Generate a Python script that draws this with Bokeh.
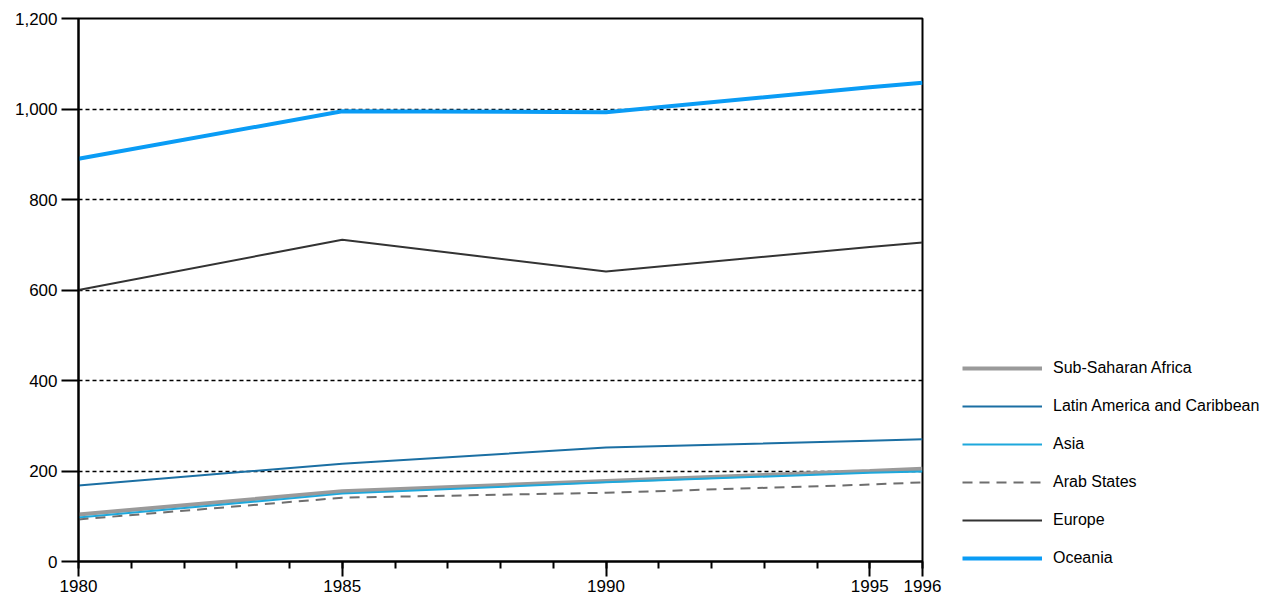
from bokeh.plotting import figure
from bokeh.models import FixedTicker, Legend, LegendItem, NumeralTickFormatter
from bokeh.embed import file_html
from bokeh.resources import INLINE

years = [1980, 1985, 1990, 1995, 1996]
sub_saharan = [104, 155, 178, 200, 205]
latin_america = [168, 216, 252, 267, 270]
asia = [97, 150, 175, 196, 199]
arab_states = [93, 141, 152, 170, 175]
europe = [600, 711, 641, 695, 705]
oceania = [890, 995, 993, 1048, 1058]

series = [
    ("Sub-Saharan Africa", sub_saharan, "#9a9a9a", 4, "solid"),
    ("Latin America and Caribbean", latin_america, "#1b6fa3", 2, "solid"),
    ("Asia", asia, "#1ea8dc", 2, "solid"),
    ("Arab States", arab_states, "#6e6e6e", 2, "10 7"),
    ("Europe", europe, "#333333", 2, "solid"),
    ("Oceania", oceania, "#0a9cf5", 4, "solid"),
]

x_labeled = [1980, 1985, 1990, 1995, 1996]
x_minor = list(range(1980, 1997))
y_ticks = [0, 200, 400, 600, 800, 1000, 1200]

FONT = "Liberation Sans"

p = figure(frame_width=844, frame_height=543, x_range=(1980, 1996), y_range=(0, 1200),
           output_backend="svg", toolbar_location=None,
           min_border_left=78, min_border_top=18, min_border_bottom=30, min_border_right=5)

items = []
for name, vals, color, w, dash in series:
    r = p.line(years, vals, line_color=color, line_width=w, line_dash=dash)
    items.append(LegendItem(label=name, renderers=[r]))

p.xaxis.ticker = FixedTicker(ticks=x_labeled, minor_ticks=x_minor)
p.xaxis.major_tick_out = 15
p.xaxis.major_tick_in = 0
p.xaxis.minor_tick_out = 7
p.xaxis.minor_tick_in = 0
p.xaxis.major_label_standoff = 3

p.yaxis.ticker = FixedTicker(ticks=y_ticks)
p.yaxis.formatter = NumeralTickFormatter(format="0,0")
p.yaxis.major_tick_out = 17
p.yaxis.major_tick_in = 0
p.yaxis.minor_tick_line_color = None
p.yaxis.major_label_standoff = 4

for ax in (p.xaxis[0], p.yaxis[0]):
    ax.axis_line_width = 2
    ax.axis_line_color = "black"
    ax.major_tick_line_width = 2
    ax.major_tick_line_color = "black"
    ax.minor_tick_line_width = 2
    ax.minor_tick_line_color = "black"
    ax.major_label_text_font = FONT
    ax.major_label_text_font_size = "17px"
    ax.major_label_text_color = "black"

p.xgrid.grid_line_color = None
p.ygrid.grid_line_color = "black"
p.ygrid.grid_line_dash = "4 3"
p.ygrid.grid_line_width = 1.5

p.outline_line_color = "black"
p.outline_line_width = 2

legend = Legend(items=items, location=(40, -6), orientation="vertical")
legend.border_line_color = None
legend.background_fill_alpha = 0
legend.padding = 0
legend.margin = 0
legend.spacing = 20
legend.glyph_width = 80
legend.glyph_height = 18
legend.label_height = 18
legend.label_standoff = 11
legend.label_text_font = FONT
legend.label_text_font_size = "16px"
legend.label_text_color = "black"
p.add_layout(legend, "right")

open("out.html", "w").write(file_html(p, INLINE))
